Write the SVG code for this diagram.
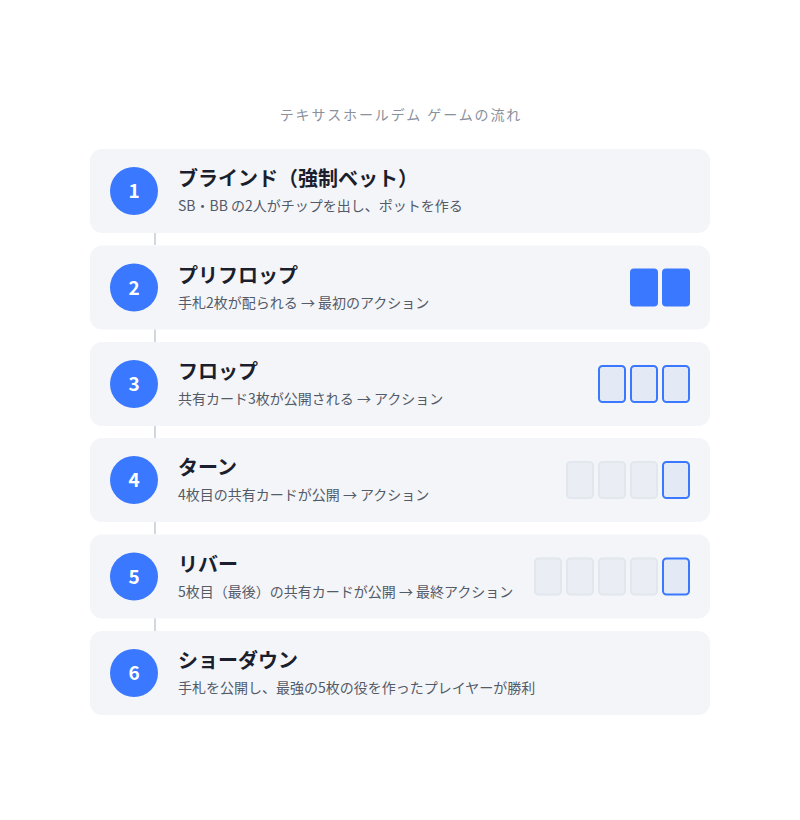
<svg xmlns="http://www.w3.org/2000/svg" width="800" height="820" viewBox="0 0 800 820">
<style>
.bg{fill:#ffffff}
.panel{fill:#f3f5f8}
.num{fill:#3a78ff}
.numt{fill:#ffffff;font-family:"Noto Sans CJK JP","Noto Sans",sans-serif;font-weight:700;font-size:19px;text-anchor:middle}
.ttl{fill:#1b1e2c;font-family:"Noto Sans CJK JP","Noto Sans",sans-serif;font-weight:700;font-size:20px}
.sub{fill:#535a68;font-family:"Noto Sans CJK JP","Noto Sans",sans-serif;font-size:14px}
.head{fill:#8a909c;font-family:"Noto Sans CJK JP","Noto Sans",sans-serif;font-size:14px;text-anchor:middle;letter-spacing:1.9px}
.conn{stroke:#d3d8e0;stroke-width:2}
.cf{fill:#3a78ff}
.co{fill:#e3eaf6;stroke:#3a78ff;stroke-width:2}
.cd{fill:#eaeef4;stroke:#e2e7ee;stroke-width:2}
</style>
<rect class="bg" x="0" y="0" width="800" height="820"/>
<text class="head" x="401" y="120">テキサスホールデム ゲームの流れ</text>
<g id="connectors">
<line class="conn" x1="155" y1="233" x2="155" y2="245"/>
<line class="conn" x1="155" y1="329" x2="155" y2="342"/>
<line class="conn" x1="155" y1="426" x2="155" y2="438"/>
<line class="conn" x1="155" y1="522" x2="155" y2="534"/>
<line class="conn" x1="155" y1="618" x2="155" y2="631"/>
</g>
<g id="step1">
<rect class="panel" x="90" y="149" width="620" height="84" rx="12"/>
<circle class="num" cx="134" cy="191" r="24"/>
<text class="numt" x="134" y="198">1</text>
<text class="ttl" x="178" y="186">ブラインド（強制ベット）</text>
<text class="sub" x="178" y="211">SB・BB の2人がチップを出し、ポットを作る</text>
</g>
<g id="step2">
<rect class="panel" x="90" y="245.5" width="620" height="84" rx="12"/>
<circle class="num" cx="134" cy="287.5" r="24"/>
<text class="numt" x="134" y="294.5">2</text>
<text class="ttl" x="178" y="282.5">プリフロップ</text>
<text class="sub" x="178" y="307.5">手札2枚が配られる → 最初のアクション</text>
<rect class="cf" x="630" y="268.5" width="28" height="38" rx="4"/>
<rect class="cf" x="662" y="268.5" width="28" height="38" rx="4"/>
</g>
<g id="step3">
<rect class="panel" x="90" y="342" width="620" height="84" rx="12"/>
<circle class="num" cx="134" cy="384" r="24"/>
<text class="numt" x="134" y="391">3</text>
<text class="ttl" x="178" y="379">フロップ</text>
<text class="sub" x="178" y="404">共有カード3枚が公開される → アクション</text>
<rect class="co" x="599" y="366" width="26" height="36" rx="3.5"/>
<rect class="co" x="631" y="366" width="26" height="36" rx="3.5"/>
<rect class="co" x="663" y="366" width="26" height="36" rx="3.5"/>
</g>
<g id="step4">
<rect class="panel" x="90" y="438" width="620" height="84" rx="12"/>
<circle class="num" cx="134" cy="480" r="24"/>
<text class="numt" x="134" y="487">4</text>
<text class="ttl" x="178" y="475">ターン</text>
<text class="sub" x="178" y="500">4枚目の共有カードが公開 → アクション</text>
<rect class="cd" x="567" y="462" width="26" height="36" rx="3.5"/>
<rect class="cd" x="599" y="462" width="26" height="36" rx="3.5"/>
<rect class="cd" x="631" y="462" width="26" height="36" rx="3.5"/>
<rect class="co" x="663" y="462" width="26" height="36" rx="3.5"/>
</g>
<g id="step5">
<rect class="panel" x="90" y="534.5" width="620" height="84" rx="12"/>
<circle class="num" cx="134" cy="576.5" r="24"/>
<text class="numt" x="134" y="583.5">5</text>
<text class="ttl" x="178" y="571.5">リバー</text>
<text class="sub" x="178" y="596.5">5枚目（最後）の共有カードが公開 → 最終アクション</text>
<rect class="cd" x="535" y="558.5" width="26" height="36" rx="3.5"/>
<rect class="cd" x="567" y="558.5" width="26" height="36" rx="3.5"/>
<rect class="cd" x="599" y="558.5" width="26" height="36" rx="3.5"/>
<rect class="cd" x="631" y="558.5" width="26" height="36" rx="3.5"/>
<rect class="co" x="663" y="558.5" width="26" height="36" rx="3.5"/>
</g>
<g id="step6">
<rect class="panel" x="90" y="631" width="620" height="84" rx="12"/>
<circle class="num" cx="134" cy="673" r="24"/>
<text class="numt" x="134" y="680">6</text>
<text class="ttl" x="178" y="668">ショーダウン</text>
<text class="sub" x="178" y="693">手札を公開し、最強の5枚の役を作ったプレイヤーが勝利</text>
</g>
</svg>
